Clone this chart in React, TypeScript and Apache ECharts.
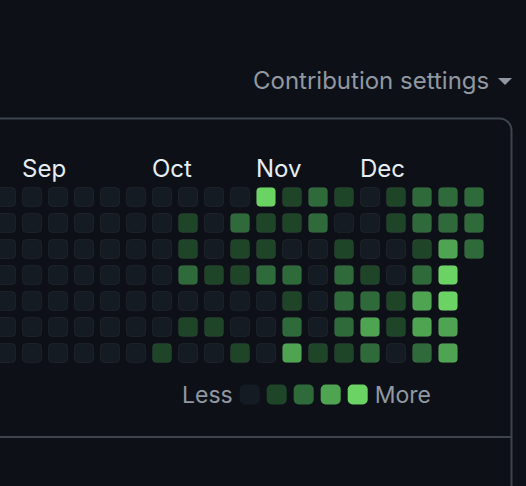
import React, { useEffect, useRef } from 'react';
import * as echarts from 'echarts';

// Weeks (starting Sunday) of late 2024
const weekStarts = ['Aug 25', 'Sep 1', 'Sep 8', 'Sep 15', 'Sep 22', 'Sep 29', 'Oct 6', 'Oct 13', 'Oct 20', 'Oct 27', 'Nov 3', 'Nov 10', 'Nov 17', 'Nov 24', 'Dec 1', 'Dec 8', 'Dec 15', 'Dec 22', 'Dec 29'];
const weekDays = ['Sun', 'Mon', 'Tue', 'Wed', 'Thu', 'Fri', 'Sat'];

// Contribution level (0-4) per weekday row, one value per week column
const sunLevels = [0, 0, 0, 0, 0, 0, 0, 0, 0, 0, 4, 1, 2, 1, 0, 1, 2, 2, 2];
const monLevels = [0, 0, 0, 0, 0, 0, 0, 1, 0, 2, 1, 1, 2, 0, 0, 1, 2, 2, 2];
const tueLevels = [0, 0, 0, 0, 0, 0, 0, 1, 0, 1, 1, 0, 0, 1, 0, 0, 1, 3, 2];
const wedLevels = [0, 0, 0, 0, 0, 0, 0, 2, 1, 1, 2, 2, 0, 2, 1, 0, 2, 4, null];
const thuLevels = [0, 0, 0, 0, 0, 0, 0, 0, 0, 0, 0, 1, 0, 2, 2, 1, 3, 4, null];
const friLevels = [0, 0, 0, 0, 0, 0, 0, 1, 1, 0, 0, 2, 0, 2, 3, 1, 3, 3, null];
const satLevels = [0, 0, 0, 0, 0, 0, 1, 0, 0, 1, 0, 3, 1, 1, 2, 0, 2, 3, null];

const monthNames = ['Sep', 'Oct', 'Nov', 'Dec'];
const monthWeekIndex = [1, 6, 10, 14];

const levelColors = ['#151b23', '#1f4529', '#2e6a3a', '#4fa452', '#6bd264'];
const legendTexts = ['More', 'Less'];

const FONT = 'Inter, "Noto Sans", sans-serif';

export default function App() {
  const ref = useRef<HTMLDivElement>(null);
  useEffect(() => {
    const chart = echarts.init(ref.current!, null, { renderer: 'svg' });
    const rows = [sunLevels, monLevels, tueLevels, wedLevels, thuLevels, friLevels, satLevels];
    const cellData: number[][] = [];
    rows.forEach((row, r) => {
      row.forEach((v, c) => {
        if (v !== null && v !== undefined) cellData.push([c, r, v as number]);
      });
    });
    const monthData = monthWeekIndex.map((c, i) => [c, 0, i]);

    chart.setOption({
      animation: false,
      backgroundColor: '#0d1117',
      grid: { left: 0, top: 184, width: 487, height: 182 },
      // week columns: the first one is cut by the left edge of the page
      xAxis: { type: 'value', min: -6 / 26, max: weekStarts.length - 0.5, show: false },
      yAxis: { type: 'category', data: weekDays, inverse: true, show: false },
      visualMap: {
        type: 'piecewise',
        seriesIndex: 0,
        dimension: 2,
        pieces: levelColors.map((color, i) => ({ value: i, color })),
        orient: 'horizontal',
        left: 167,
        top: 368,
        itemWidth: 20,
        itemHeight: 20,
        itemGap: 7,
        itemSymbol: 'roundRect',
        text: legendTexts,
        textGap: 8,
        showLabel: false,
        selectedMode: false,
        hoverLink: false,
        textStyle: { color: '#9198a1', fontSize: 23, fontFamily: FONT },
      },
      graphic: [
        {
          type: 'rect',
          shape: { x: -20, y: 118.5, width: 531.5, height: 500, r: 12 },
          style: { fill: 'none', stroke: '#3d444d', lineWidth: 2 },
          silent: true,
        },
        {
          type: 'line',
          shape: { x1: 0, y1: 437, x2: 511, y2: 437 },
          style: { stroke: '#3d444d', lineWidth: 2 },
          silent: true,
        },
        {
          type: 'text',
          x: 253,
          y: 80,
          style: { text: 'Contribution settings', fill: '#9198a1', fontSize: 24, fontFamily: FONT, align: 'left', verticalAlign: 'middle' },
        },
        {
          type: 'polygon',
          shape: { points: [[498, 78], [512, 78], [505, 85]] },
          style: { fill: '#9198a1' },
        },
      ],
      series: [
        {
          type: 'custom',
          data: cellData,
          encode: { x: 0, y: 1 },
          renderItem: (params: any, api: any) => {
            const p = api.coord([api.value(0), api.value(1)]);
            const s = api.size([1, 1]);
            const w = s[0] - 6;
            const h = s[1] - 6;
            return {
              type: 'rect',
              shape: { x: p[0] - w / 2 + 0.5, y: p[1] - h / 2 + 0.5, width: w - 1, height: h - 1, r: 4 },
              style: { fill: api.visual('color'), stroke: 'rgba(255,255,255,0.05)', lineWidth: 1 },
            };
          },
        },
        {
          type: 'custom',
          data: monthData,
          encode: { x: 0, y: 1 },
          renderItem: (params: any, api: any) => {
            const p = api.coord([api.value(0), 0]);
            const s = api.size([1, 1]);
            return {
              type: 'text',
              x: p[0] - (s[0] - 6) / 2,
              y: p[1] - 29,
              style: {
                text: monthNames[api.value(2)],
                fill: '#e6edf3',
                fontSize: 24,
                fontFamily: FONT,
                align: 'left',
                verticalAlign: 'middle',
              },
            };
          },
        },
      ],
    });
    return () => chart.dispose();
  }, []);
  return <div ref={ref} style={{ position: 'fixed', left: 0, top: 0, width: 526, height: 486 }} />;
}
